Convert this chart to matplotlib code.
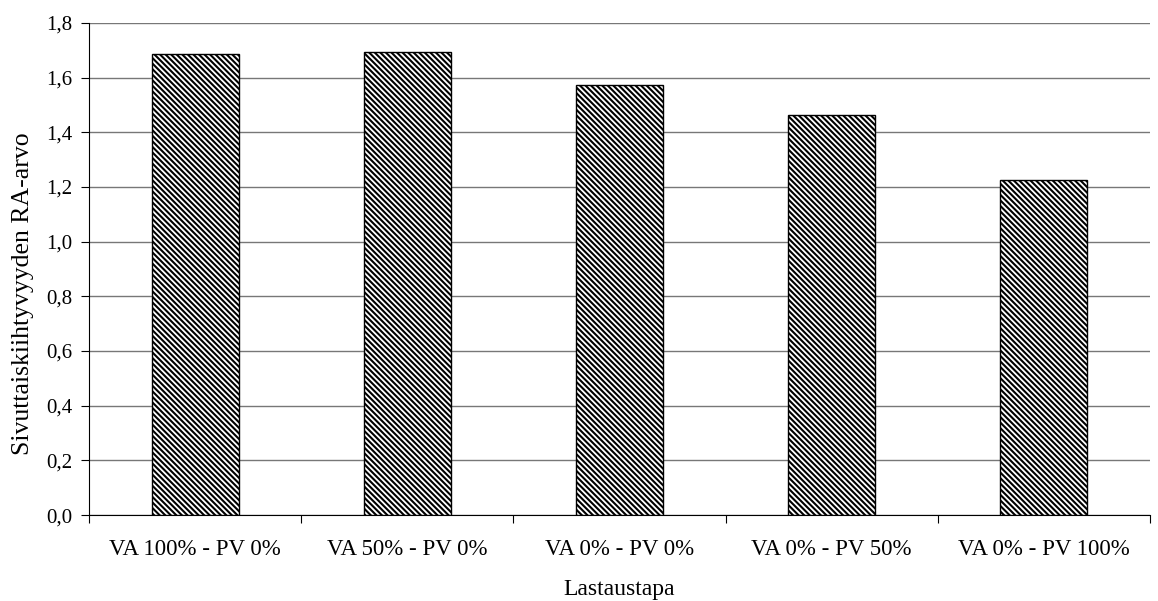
import matplotlib
matplotlib.use("Agg")
import matplotlib.pyplot as plt
import numpy as np

categories = ["VA 100% - PV 0%", "VA 50% - PV 0%", "VA 0% - PV 0%", "VA 0% - PV 50%", "VA 0% - PV 100%"]
values = [1.685, 1.694, 1.573, 1.463, 1.226]
yticks = [0.0, 0.2, 0.4, 0.6, 0.8, 1.0, 1.2, 1.4, 1.6, 1.8]

plt.rcParams['font.family'] = ['Liberation Serif', 'DejaVu Serif']
plt.rcParams['hatch.linewidth'] = 1.5

fig, ax = plt.subplots(figsize=(11.58, 6.01), dpi=100)
fig.subplots_adjust(left=0.077, right=0.993, top=0.962, bottom=0.143)

x = np.arange(len(categories))
ax.bar(x, values, width=0.41, color="white", edgecolor="black", linewidth=1.0,
       hatch="\\" * 6, zorder=3)

ax.set_xlim(-0.5, len(categories) - 0.5)
ax.set_ylim(0, 1.8)
ax.set_yticks(yticks)
ax.set_yticklabels([f"{v:.1f}".replace(".", ",") for v in yticks])
ax.yaxis.grid(True, color="#777777", linewidth=1.0, zorder=0)

# category boundaries get the tick marks, names sit between them
ax.set_xticks(np.arange(-0.5, len(categories)), minor=False)
ax.set_xticklabels([])
ax.set_xticks(x, minor=True)
ax.set_xticklabels(categories, minor=True)
ax.tick_params(axis="x", which="minor", length=0, pad=17, labelsize=16.5)
ax.tick_params(axis="x", which="major", length=6, direction="out")
ax.tick_params(axis="y", length=6, direction="out", labelsize=15, pad=6)

for s in ["top", "right"]:
    ax.spines[s].set_visible(False)

ax.set_ylabel("Sivuttaiskiihtyvyyden RA-arvo", fontsize=18.5)
ax.yaxis.set_label_coords(-0.052, 0.45)
ax.set_xlabel("Lastaustapa", fontsize=17, labelpad=14)

fig.savefig("out.png", dpi=100)
